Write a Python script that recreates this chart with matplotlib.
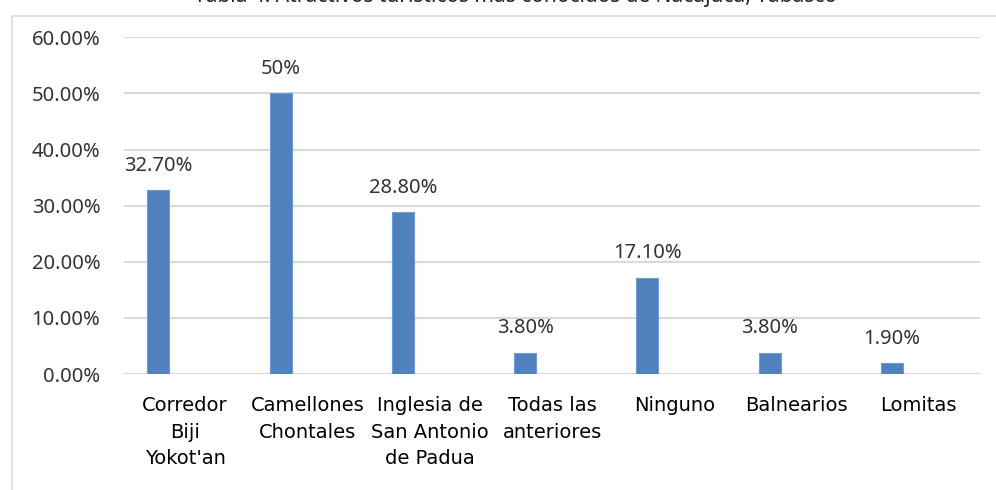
import matplotlib.pyplot as plt
from matplotlib.patches import Rectangle
from matplotlib.ticker import FuncFormatter

categories = ["Corredor\nBiji\nYokot'an", "Camellones\nChontales", "Inglesia de\nSan Antonio\nde Padua",
              "Todas las\nanteriores", "Ninguno", "Balnearios", "Lomitas"]
values = [32.7, 50.0, 28.8, 3.8, 17.1, 3.8, 1.9]
value_labels = ["32.70%", "50%", "28.80%", "3.80%", "17.10%", "3.80%", "1.90%"]
title = "Tabla 4. Atractivos turísticos más conocidos de Nacajuca, Tabasco"

label_font = ["DejaVu Sans"]
num_font = ["Noto Sans", "DejaVu Sans"]

fig = plt.figure(figsize=(9.96, 4.9), dpi=100)

# chart frame (cut off at right and bottom)
fig.patches.append(Rectangle((12 / 996, -0.1), 1.2, 1 - 16 / 490 + 0.1, transform=fig.transFigure,
                             fill=False, edgecolor="#d9d9d9", linewidth=1.2))

# title, mostly cut off at the top
fig.text(515 / 996, 1 - 2 / 490, title, ha="center", va="baseline", fontsize=15,
         family=num_font, color="#262626")

ax = fig.add_axes([124 / 996, 1 - 374 / 490, (980 - 124) / 996, (374 - 37.3) / 490])

x = list(range(len(categories)))
bar_x = [i - 0.22 for i in x]
ax.bar(bar_x, values, width=0.18, color="#4f81bd", edgecolor="#6f9ad3", linewidth=0.8, zorder=3)

for bx, v, lab in zip(bar_x, values, value_labels):
    ax.text(bx, v + 2.6, lab, ha="center", va="bottom", fontsize=14.5, family=num_font, color="#333333")

ax.set_xlim(-0.5, 6.5)
ax.set_ylim(0, 60)
ax.set_yticks(range(0, 61, 10))
ax.yaxis.set_major_formatter(FuncFormatter(lambda v, p: f"{v:.2f}%"))
ax.grid(axis="y", color="#d9d9d9", linewidth=1.5, zorder=0)
ax.set_xticks(x)
ax.set_xticklabels(categories, fontsize=14, family=label_font, color="#000000", linespacing=1.5)
for t in ax.get_yticklabels():
    t.set_fontsize(14.5)
    t.set_family(num_font)
    t.set_color("#333333")
ax.tick_params(axis="both", length=0)
ax.tick_params(axis="x", pad=16)
ax.tick_params(axis="y", pad=17)
for s in ax.spines.values():
    s.set_visible(False)

fig.savefig("out.png", dpi=100)
